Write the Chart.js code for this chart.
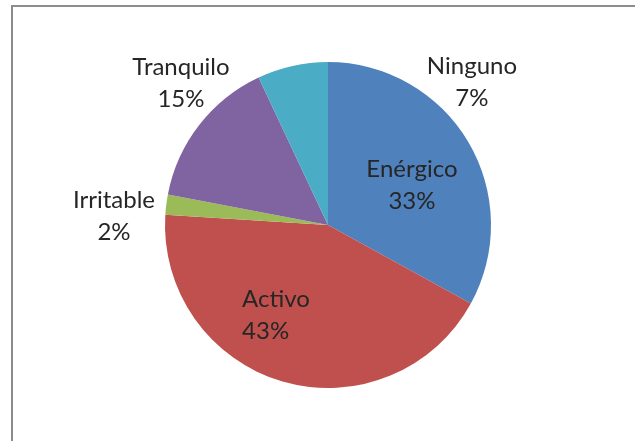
<!DOCTYPE html>
<html>
<head>
<meta charset="utf-8">
<script src="https://cdn.jsdelivr.net/npm/chart.js@4/dist/chart.umd.min.js"></script>
<style>
  html, body { margin: 0; padding: 0; background: #ffffff; }
  #wrap { width: 635px; height: 441px; position: relative; }
</style>
</head>
<body>
<div id="wrap"><canvas id="c" width="635" height="441"></canvas></div>
<script>
// ---- data ----
const categories = ['Enérgico', 'Activo', 'Irritable', 'Tranquilo', 'Ninguno'];
const percentValues = [33, 43, 2, 15, 7];
const percentLabels = ['33%', '43%', '2%', '15%', '7%'];
const sliceColors = ['#4F81BD', '#C0504D', '#9BBB59', '#8064A2', '#4BACC6'];

// label placement relative to pie centre, in units of the pie radius
const labelPlacement = {
  'Enérgico':  { dx: 0.515,  dy: -0.294, align: 'center' },
  'Activo':    { dx: -0.527, dy: 0.503,  align: 'left' },
  'Irritable': { dx: -1.313, dy: -0.104, align: 'center' },
  'Tranquilo': { dx: -0.902, dy: -0.920, align: 'center' },
  'Ninguno':   { dx: 0.883,  dy: -0.926, align: 'center' }
};

const framePlugin = {
  id: 'frame',
  beforeDraw(chart) {
    const ctx = chart.ctx;
    ctx.save();
    ctx.fillStyle = '#ffffff';
    ctx.fillRect(0, 0, chart.width, chart.height);
    ctx.strokeStyle = '#8c8c8c';
    ctx.lineWidth = 2;
    ctx.beginPath();
    ctx.moveTo(12, chart.height);
    ctx.lineTo(12, 6);
    ctx.lineTo(chart.width, 6);
    ctx.stroke();
    ctx.restore();
  }
};

const labelPlugin = {
  id: 'sliceLabels',
  afterDatasetsDraw(chart) {
    const ctx = chart.ctx;
    const meta = chart.getDatasetMeta(0);
    ctx.save();
    ctx.font = '24px Lato, "Open Sans", sans-serif';
    ctx.fillStyle = '#262626';
    ctx.textBaseline = 'alphabetic';
    meta.data.forEach((arc, i) => {
      const p = labelPlacement[categories[i]];
      const r = arc.outerRadius;
      const x = arc.x + p.dx * r;
      const y = arc.y + p.dy * r;
      ctx.textAlign = p.align;
      ctx.fillText(categories[i], x, y);
      ctx.fillText(percentLabels[i], x, y + 32);
    });
    ctx.restore();
  }
};

new Chart(document.getElementById('c'), {
  type: 'pie',
  data: {
    labels: categories,
    datasets: [{
      data: percentValues,
      backgroundColor: sliceColors,
      borderWidth: 0
    }]
  },
  options: {
    responsive: false,
    animation: false,
    layout: { padding: { left: 100, right: 79, top: 62, bottom: 53 } },
    plugins: {
      legend: { display: false },
      tooltip: { enabled: false }
    }
  },
  plugins: [framePlugin, labelPlugin]
});
</script>
</body>
</html>
